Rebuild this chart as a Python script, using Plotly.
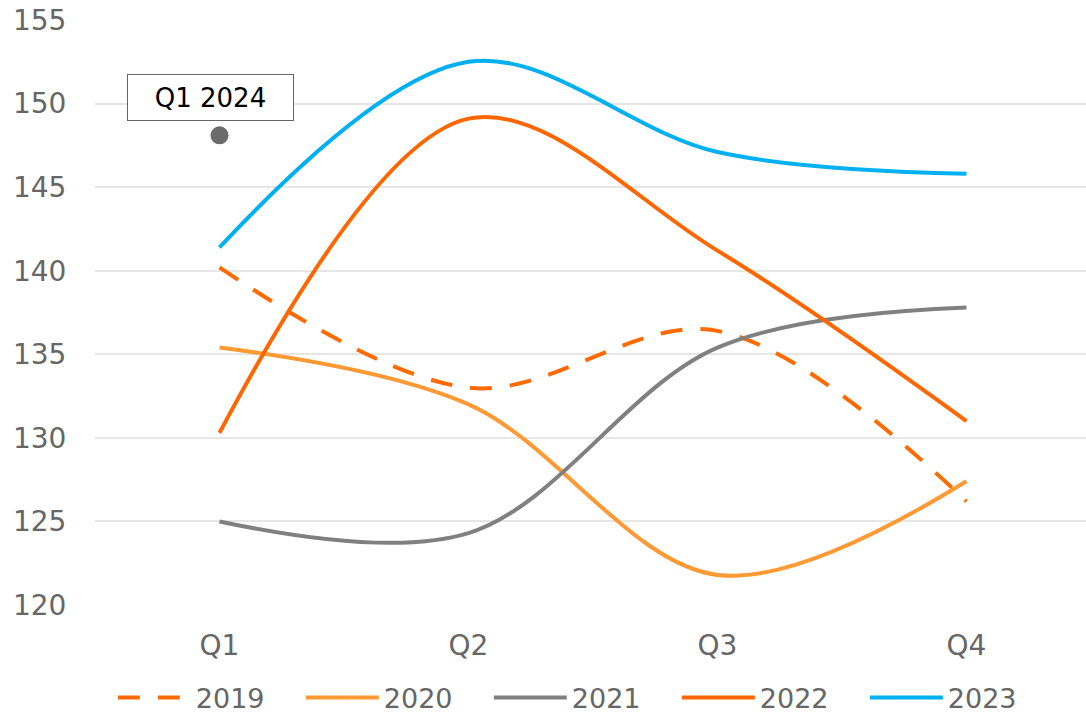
import plotly.graph_objects as go

quarters = ["Q1", "Q2", "Q3", "Q4"]
v2019 = [140.2, 133.0, 136.4, 126.2]
v2020 = [135.4, 132.0, 121.8, 127.4]
v2021 = [125.0, 124.3, 135.4, 137.8]
v2022 = [130.3, 149.1, 141.2, 131.0]
v2023 = [141.4, 152.5, 147.1, 145.8]
q1_2024 = 148.1
y_ticks = [120, 125, 130, 135, 140, 145, 150, 155]

FONT = "DejaVu Sans, Verdana, sans-serif"
GREY = "#666666"

fig = go.Figure()

series = [
    ("2019", v2019, "#FF6A00", "22px,18px"),
    ("2020", v2020, "#FF9933", "solid"),
    ("2021", v2021, "#808080", "solid"),
    ("2022", v2022, "#FF6600", "solid"),
    ("2023", v2023, "#00B0F0", "solid"),
]
for name, vals, color, dash in series:
    fig.add_trace(go.Scatter(
        x=quarters, y=vals, name=name, mode="lines",
        line=dict(color=color, width=4, dash=dash, shape="spline", smoothing=1),
    ))

# single Q1 2024 point
fig.add_trace(go.Scatter(
    x=["Q1"], y=[q1_2024], mode="markers", showlegend=False,
    marker=dict(color="#6b6b6b", size=18),
))
fig.add_annotation(
    x="Q1", y=150.35, text="Q1 2024", showarrow=False, xshift=-9,
    font=dict(family=FONT, size=26, color="black"),
    bgcolor="white", bordercolor=GREY, borderwidth=1,
    width=157, height=37, borderpad=4,
)

fig.update_layout(
    width=1086, height=716,
    margin=dict(l=95, r=0, t=20, b=111, autoexpand=False),
    plot_bgcolor="white", paper_bgcolor="white",
    font=dict(family=FONT, size=28, color=GREY),
    showlegend=True,
    legend=dict(
        orientation="h", x=0.018, xanchor="left", y=-0.159, yanchor="middle",
        font=dict(family=FONT, size=27, color=GREY),
        entrywidth=100, entrywidthmode="pixels", itemwidth=73,
        borderwidth=0,
    ),
    xaxis=dict(
        range=[-0.5, 3.48], showgrid=False, zeroline=False, showline=False,
        ticks="outside", ticklen=15, tickcolor="rgba(0,0,0,0)", automargin=False,
        ticklabeloverflow="allow",
    ),
    yaxis=dict(
        range=[120, 155], tickvals=y_ticks, showgrid=True, gridcolor="#e6e6e6",
        gridwidth=2, zeroline=False, showline=False, automargin=False,
        ticks="outside", ticklen=22, tickcolor="rgba(0,0,0,0)",
        ticklabeloverflow="allow",
    ),
)

# drop the default page margin so the figure sits at the window's top-left
fig.write_html(
    "out.html",
    config={"displayModeBar": False},
    post_script="document.body.style.margin='0';",
)
